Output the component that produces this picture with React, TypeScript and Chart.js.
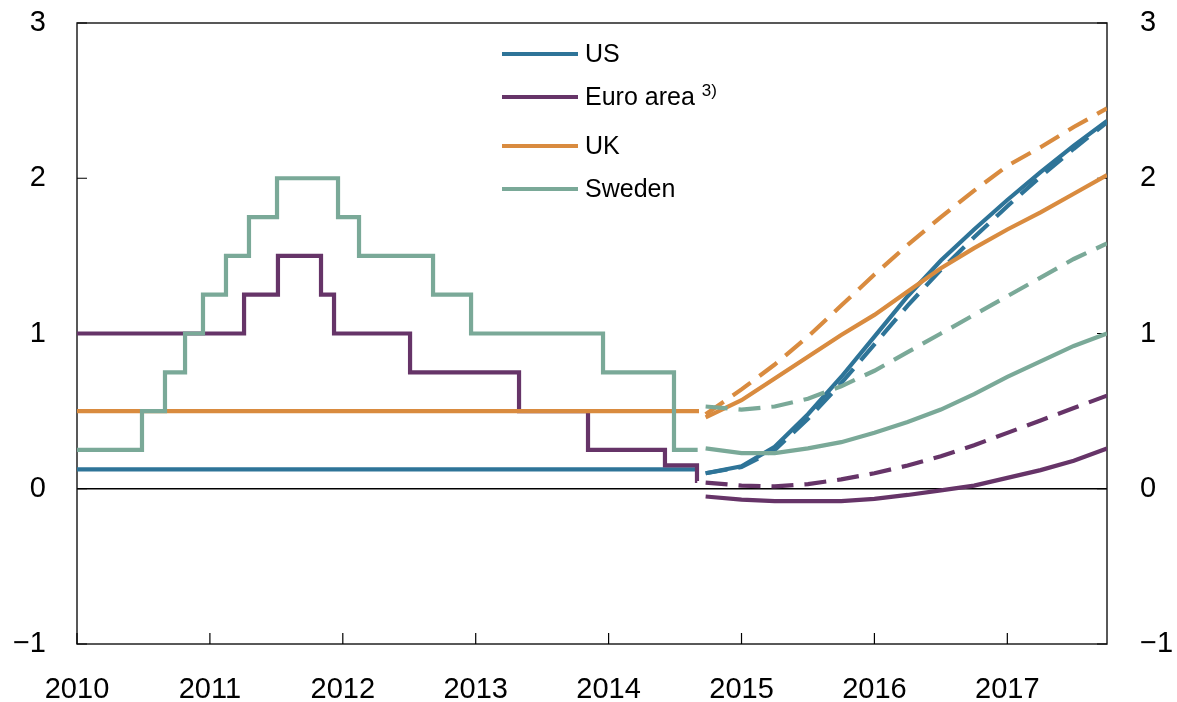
import React, { useEffect, useRef } from 'react';
import { Chart, registerables } from 'chart.js';

Chart.register(...registerables);

// ---- Data ----
const yearTicks = [2010, 2011, 2012, 2013, 2014, 2015, 2016, 2017];
const yTicks = [-1, 0, 1, 2, 3];

const seriesNames = ['US', 'Euro area', 'UK', 'Sweden'];
const seriesColors = ['#2E7498', '#663468', '#D98B3F', '#7AA998'];

// Historical policy rates (step series): x = decimal year when rate changes
const usHistX = [2010, 2014.68];
const usHistY = [0.125, 0.125];

const ukHistX = [2010, 2014.68];
const ukHistY = [0.5, 0.5];

const euroHistX = [2010, 2011.257, 2011.512, 2011.836, 2011.934, 2012.506, 2013.326, 2013.845, 2014.424, 2014.665, 2014.667];
const euroHistY = [1.0, 1.25, 1.5, 1.25, 1.0, 0.75, 0.5, 0.25, 0.15, 0.05, 0.05];

const swedenHistX = [2010, 2010.489, 2010.662, 2010.813, 2010.948, 2011.121, 2011.294, 2011.505, 2011.964, 2012.122, 2012.679, 2012.965, 2013.958, 2014.492, 2014.67];
const swedenHistY = [0.25, 0.5, 0.75, 1.0, 1.25, 1.5, 1.75, 2.0, 1.75, 1.5, 1.25, 1.0, 0.75, 0.25, 0.25];

// Forward rates (quarterly)
const fcX = [2014.73, 2015.0, 2015.25, 2015.5, 2015.75, 2016.0, 2016.25, 2016.5, 2016.75, 2017.0, 2017.25, 2017.5, 2017.75];

const usSolid = [0.10, 0.145, 0.27, 0.48, 0.72, 0.98, 1.24, 1.47, 1.67, 1.86, 2.04, 2.21, 2.37];
const usDashed = [0.10, 0.14, 0.25, 0.45, 0.68, 0.93, 1.18, 1.41, 1.62, 1.82, 2.01, 2.19, 2.36];

const euroSolid = [-0.05, -0.07, -0.08, -0.08, -0.08, -0.065, -0.04, -0.01, 0.02, 0.07, 0.12, 0.18, 0.26];
const euroDashed = [0.04, 0.02, 0.015, 0.03, 0.06, 0.10, 0.15, 0.21, 0.28, 0.36, 0.44, 0.52, 0.60];

const ukSolid = [0.46, 0.57, 0.71, 0.85, 0.99, 1.12, 1.27, 1.42, 1.55, 1.67, 1.78, 1.90, 2.02];
const ukDashed = [0.48, 0.64, 0.80, 0.98, 1.18, 1.38, 1.57, 1.75, 1.92, 2.08, 2.20, 2.33, 2.45];

const swedenSolid = [0.26, 0.23, 0.23, 0.26, 0.30, 0.36, 0.43, 0.51, 0.61, 0.72, 0.82, 0.92, 1.0];
const swedenDashed = [0.53, 0.51, 0.53, 0.58, 0.66, 0.76, 0.88, 1.0, 1.12, 1.24, 1.36, 1.48, 1.58];

const FONT = '"Liberation Sans", Arial, Helvetica, sans-serif';

const zip = (xs: number[], ys: number[]) => xs.map((x, i) => ({ x, y: ys[i] }));
const fmtY = (v: number) => (v < 0 ? '\u2212' + Math.abs(v) : String(v));

const framePlugin = {
  id: 'framePlugin',
  beforeDatasetsDraw(chart: any) {
    const { ctx, chartArea } = chart;
    const { left, right, top, bottom } = chartArea;
    const xs = chart.scales.x;
    const ys = chart.scales.y;
    ctx.save();
    ctx.strokeStyle = '#000';
    ctx.lineWidth = 1.5;
    const y0 = ys.getPixelForValue(0);
    ctx.beginPath();
    ctx.moveTo(left, y0);
    ctx.lineTo(right, y0);
    ctx.stroke();
    ctx.strokeStyle = '#222';
    ctx.strokeRect(left, top, right - left, bottom - top);
    ctx.strokeStyle = '#000';
    ctx.lineWidth = 1.2;
    ctx.beginPath();
    yearTicks.forEach((t) => {
      const px = xs.getPixelForValue(t);
      ctx.moveTo(px, bottom);
      ctx.lineTo(px, bottom - 11);
    });
    yTicks.forEach((t) => {
      const py = ys.getPixelForValue(t);
      ctx.moveTo(left, py);
      ctx.lineTo(left + 10, py);
      ctx.moveTo(right, py);
      ctx.lineTo(right - 10, py);
    });
    ctx.stroke();
    ctx.restore();
  },
  afterDraw(chart: any) {
    const { ctx, chartArea } = chart;
    const rows = [54, 97, 146, 189];
    const lx0 = chartArea.left + 425;
    const lx1 = chartArea.left + 501;
    const tx = chartArea.left + 508;
    ctx.save();
    seriesNames.forEach((name, i) => {
      ctx.strokeStyle = seriesColors[i];
      ctx.lineWidth = 4;
      ctx.lineCap = 'butt';
      ctx.beginPath();
      ctx.moveTo(lx0, rows[i]);
      ctx.lineTo(lx1, rows[i]);
      ctx.stroke();
      ctx.fillStyle = '#000';
      ctx.font = `25px ${FONT}`;
      ctx.textAlign = 'left';
      ctx.textBaseline = 'middle';
      ctx.fillText(name, tx, rows[i] + 1);
      if (i === 1) {
        const w = ctx.measureText(name).width;
        ctx.font = `17px ${FONT}`;
        ctx.textBaseline = 'alphabetic';
        ctx.fillText('3)', tx + w + 7, rows[i] - 1);
      }
    });
    ctx.restore();
  },
};

const yFit = (width: number) => (s: any) => {
  s.width = width;
  s.paddingTop = 0;
  s.paddingBottom = 0;
};

export default function App() {
  const ref = useRef<HTMLCanvasElement | null>(null);

  useEffect(() => {
    if (!ref.current) return;
    const solid = (data: any, color: string, stepped = false) => ({
      data,
      borderColor: color,
      backgroundColor: color,
      borderWidth: 4.2,
      pointRadius: 0,
      pointHoverRadius: 0,
      fill: false,
      tension: 0,
      stepped,
      borderCapStyle: 'butt',
      borderJoinStyle: 'miter',
    });
    const dashed = (data: any, color: string) => ({
      ...solid(data, color),
      borderDash: [22, 11],
    });

    const gridOpts = { display: false, drawTicks: false, tickLength: 0 };

    const chart = new Chart(ref.current, {
      type: 'line',
      data: {
        datasets: [
          solid(zip(swedenHistX, swedenHistY), seriesColors[3], true),
          solid(zip(ukHistX, ukHistY), seriesColors[2], true),
          solid(zip(euroHistX, euroHistY), seriesColors[1], true),
          solid(zip(usHistX, usHistY), seriesColors[0], true),
          dashed(zip(fcX, swedenDashed), seriesColors[3]),
          solid(zip(fcX, swedenSolid), seriesColors[3]),
          dashed(zip(fcX, ukDashed), seriesColors[2]),
          solid(zip(fcX, ukSolid), seriesColors[2]),
          dashed(zip(fcX, euroDashed), seriesColors[1]),
          solid(zip(fcX, euroSolid), seriesColors[1]),
          dashed(zip(fcX, usDashed), seriesColors[0]),
          solid(zip(fcX, usSolid), seriesColors[0]),
        ] as any,
      },
      options: {
        animation: false,
        responsive: false,
        devicePixelRatio: 1,
        events: [],
        layout: { padding: { top: 23, left: 0, right: 0, bottom: 0 } },
        plugins: {
          legend: { display: false },
          tooltip: { enabled: false },
          title: { display: false },
        },
        scales: {
          x: {
            type: 'linear',
            position: 'bottom',
            min: 2010,
            max: 2017.75,
            afterBuildTicks: (s: any) => {
              s.ticks = yearTicks.map((v) => ({ value: v }));
            },
            afterFit: (s: any) => {
              s.height = 58;
              s.paddingLeft = 0;
              s.paddingRight = 0;
            },
            grid: gridOpts,
            border: { display: false },
            ticks: {
              autoSkip: false,
              maxRotation: 0,
              padding: 29,
              color: '#000',
              font: { family: FONT, size: 29 },
              callback: (v: any) => String(v),
            },
          },
          y: {
            type: 'linear',
            position: 'left',
            min: -1,
            max: 3,
            afterBuildTicks: (s: any) => {
              s.ticks = yTicks.map((v) => ({ value: v }));
            },
            afterFit: yFit(77),
            grid: gridOpts,
            border: { display: false },
            ticks: {
              padding: 31,
              color: '#000',
              font: { family: FONT, size: 29 },
              callback: (v: any) => fmtY(Number(v)),
            },
          },
          y2: {
            type: 'linear',
            position: 'right',
            min: -1,
            max: 3,
            afterBuildTicks: (s: any) => {
              s.ticks = yTicks.map((v) => ({ value: v }));
            },
            afterFit: yFit(70),
            grid: gridOpts,
            border: { display: false },
            ticks: {
              padding: 33,
              color: '#000',
              font: { family: FONT, size: 29 },
              callback: (v: any) => fmtY(Number(v)),
            },
          },
        },
      } as any,
      plugins: [framePlugin],
    });
    return () => chart.destroy();
  }, []);

  return (
    <div style={{ position: 'absolute', left: 0, top: 0, width: 1177, height: 702, background: '#fff' }}>
      <canvas ref={ref} width={1177} height={702} style={{ display: 'block', width: 1177, height: 702 }} />
    </div>
  );
}
